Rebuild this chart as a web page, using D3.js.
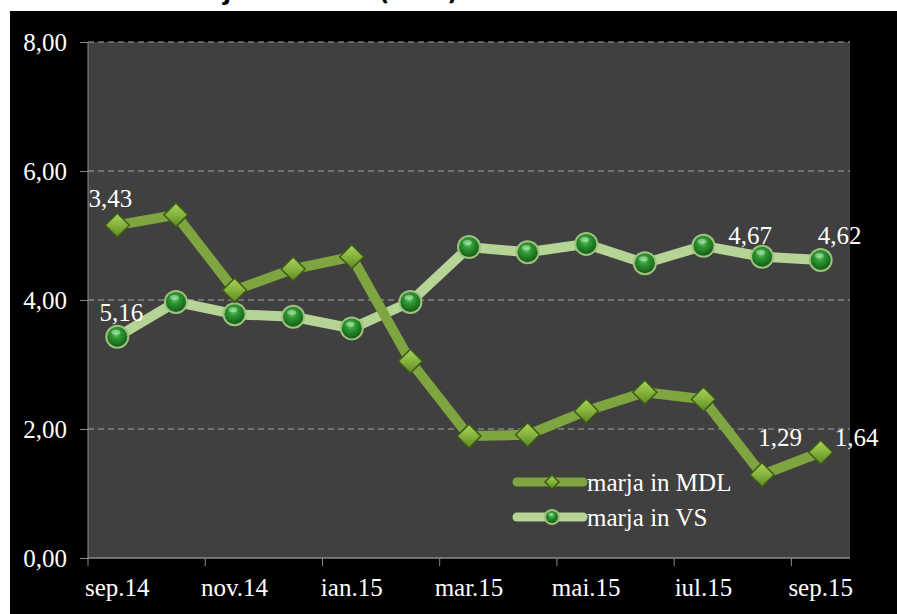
<!DOCTYPE html>
<html>
<head>
<meta charset="utf-8">
<script src="https://cdn.jsdelivr.net/npm/d3@7"></script>
<style>
  html, body { margin: 0; padding: 0; background: #ffffff; }
  svg { display: block; }
</style>
</head>
<body>
<svg id="chart" width="897" height="614"></svg>
<script>
// ---------- data ----------
const months = ["sep.14","oct.14","nov.14","dec.14","ian.15","feb.15","mar.15","apr.15","mai.15","iun.15","iul.15","aug.15","sep.15"];
const tickLabels = ["sep.14","nov.14","ian.15","mar.15","mai.15","iul.15","sep.15"];
const yTicks = [0, 2, 4, 6, 8];
const seriesNames = ["marja in MDL", "marja in VS"];
const marjaMDL = [5.16, 5.32, 4.15, 4.48, 4.67, 3.05, 1.89, 1.91, 2.28, 2.57, 2.46, 1.29, 1.64];
const marjaVS  = [3.43, 3.97, 3.78, 3.74, 3.56, 3.97, 4.82, 4.74, 4.87, 4.57, 4.84, 4.67, 4.62];
// data labels as shown in the original (series, month index, text)
const labelSeries = ["MDL", "VS", "VS", "VS", "MDL", "MDL"];
const labelIndex  = [0, 0, 11, 12, 11, 12];
const labelText   = ["3,43", "5,16", "4,67", "4,62", "1,29", "1,64"];
const titleText = "Marja dobânzii (în %)";

// ---------- layout ----------
const W = 897, H = 614;
const plot = { left: 88, right: 850, top: 42, bottom: 558 };
const labelOffsets = [[-7,-27],[4,-25],[-12,-22],[19,-25],[18,-38],[36,-15]];
const serif = "'Liberation Serif', 'Times New Roman', serif";

const svg = d3.select("#chart");
const defs = svg.append("defs");

// gradients
const dg = defs.append("linearGradient").attr("id","diamondGrad")
  .attr("x1","0").attr("y1","0").attr("x2","0").attr("y2","1");
dg.append("stop").attr("offset","0%").attr("stop-color","#a9d35c");
dg.append("stop").attr("offset","50%").attr("stop-color","#86b43d");
dg.append("stop").attr("offset","100%").attr("stop-color","#5b8624");

const cg = defs.append("radialGradient").attr("id","circleGrad")
  .attr("cx","45%").attr("cy","35%").attr("r","65%");
cg.append("stop").attr("offset","0%").attr("stop-color","#6fd06f");
cg.append("stop").attr("offset","35%").attr("stop-color","#2f9a34");
cg.append("stop").attr("offset","100%").attr("stop-color","#145c18");

// backgrounds
svg.append("rect").attr("x",0).attr("y",0).attr("width",W).attr("height",H).attr("fill","#ffffff");

// title, cut off by the top edge (only descenders visible, as in the original)
svg.append("text").attr("x",171).attr("y",0)
  .attr("font-family","'DejaVu Sans', sans-serif").attr("font-weight","bold")
  .attr("font-size",24).attr("fill","#000").text(titleText);

svg.append("rect").attr("x",10).attr("y",11).attr("width",W-10).attr("height",H-11).attr("fill","#000000");

svg.append("rect").attr("x",plot.left).attr("y",plot.top)
  .attr("width",plot.right-plot.left).attr("height",plot.bottom-plot.top)
  .attr("fill","#404040");

// scales
const x = d3.scaleBand().domain(months).range([plot.left, plot.right]).padding(0);
const y = d3.scaleLinear().domain([0, 8]).range([plot.bottom, plot.top]);
const cx = d => x(d) + x.bandwidth()/2;

// gridlines
svg.append("g").selectAll("line").data(yTicks.filter(t => t > 0)).join("line")
  .attr("x1", plot.left).attr("x2", plot.right)
  .attr("y1", d => y(d)).attr("y2", d => y(d))
  .attr("stroke","#a6a6a6").attr("stroke-width",1).attr("stroke-dasharray","6,4");

// y axis
const yAxis = d3.axisLeft(y).tickValues(yTicks).tickSize(8)
  .tickFormat(d => d3.format(".2f")(d).replace(".", ","));
const gy = svg.append("g").attr("transform",`translate(${plot.left},0)`).call(yAxis);
gy.select(".domain").attr("stroke","#8c8c8c").attr("d",`M0,${plot.top}V${plot.bottom}`);
gy.selectAll(".tick line").attr("stroke","#8c8c8c");
gy.selectAll(".tick text").attr("fill","#ffffff").attr("font-family",serif)
  .attr("font-size",25).attr("x",-21).attr("dy","0.32em");

// x axis: tick marks on band boundaries every 2 months, labels at band centres
const gx = svg.append("g");
gx.append("line").attr("x1",plot.left).attr("x2",plot.right)
  .attr("y1",plot.bottom).attr("y2",plot.bottom).attr("stroke","#8c8c8c").attr("stroke-width",1.5);
gx.selectAll("line.tk").data(tickLabels).join("line").attr("class","tk")
  .attr("x1", d => x(d)).attr("x2", d => x(d))
  .attr("y1", plot.bottom).attr("y2", plot.bottom + 8)
  .attr("stroke","#8c8c8c");
gx.selectAll("text").data(tickLabels).join("text")
  .attr("x", d => cx(d)).attr("y", 596)
  .attr("text-anchor","middle").attr("fill","#ffffff")
  .attr("font-family",serif).attr("font-size",25).text(d => d);

// series
const mdlLine = "#7ea53f", vsLine = "#b5d495";
const line = d3.line().x((d,i) => cx(months[i])).y(d => y(d));

svg.append("path").datum(marjaVS).attr("d", line)
  .attr("fill","none").attr("stroke",vsLine).attr("stroke-width",10).attr("stroke-linejoin","round");
svg.append("path").datum(marjaMDL).attr("d", line)
  .attr("fill","none").attr("stroke",mdlLine).attr("stroke-width",10).attr("stroke-linejoin","round");

function diamond(g, s) {
  g.append("path").attr("d", `M0,${-s}L${s},0L0,${s}L${-s},0Z`)
    .attr("fill","url(#diamondGrad)").attr("stroke","#3d5a16").attr("stroke-width",1.5);
}
function ball(g, r) {
  g.append("circle").attr("r", r+2).attr("fill","#9cc27c");
  g.append("circle").attr("r", r).attr("fill","url(#circleGrad)");
  g.append("ellipse").attr("cx",-r*0.15).attr("cy",-r*0.45).attr("rx",r*0.45).attr("ry",r*0.25)
    .attr("fill","#ffffff").attr("opacity",0.35);
}

svg.append("g").selectAll("g").data(marjaVS).join("g")
  .attr("transform",(d,i) => `translate(${cx(months[i])},${y(d)})`)
  .each(function(){ ball(d3.select(this), 10); });
svg.append("g").selectAll("g").data(marjaMDL).join("g")
  .attr("transform",(d,i) => `translate(${cx(months[i])},${y(d)})`)
  .each(function(){ diamond(d3.select(this), 12); });

// data labels
svg.append("g").selectAll("text").data(labelText).join("text")
  .attr("x", (d,i) => cx(months[labelIndex[i]]) + labelOffsets[i][0])
  .attr("y", (d,i) => y((labelSeries[i] === "MDL" ? marjaMDL : marjaVS)[labelIndex[i]]) + labelOffsets[i][1])
  .attr("dy","0.35em").attr("text-anchor","middle")
  .attr("fill","#ffffff").attr("font-family",serif).attr("font-size",25).text(d => d);

// legend
const lg = svg.append("g");
const legendRows = [
  { name: seriesNames[0], color: mdlLine, y: 482, mk: "d" },
  { name: seriesNames[1], color: vsLine, y: 517, mk: "c" }
];
legendRows.forEach(r => {
  lg.append("line").attr("x1",517).attr("x2",583).attr("y1",r.y).attr("y2",r.y)
    .attr("stroke",r.color).attr("stroke-width",9).attr("stroke-linecap","round");
  const m = lg.append("g").attr("transform",`translate(552,${r.y})`);
  if (r.mk === "d") diamond(m, 7); else ball(m, 6);
  lg.append("text").attr("x",587).attr("y",r.y).attr("dy","0.35em")
    .attr("fill","#ffffff").attr("font-family",serif).attr("font-size",25).text(r.name);
});
</script>
</body>
</html>
